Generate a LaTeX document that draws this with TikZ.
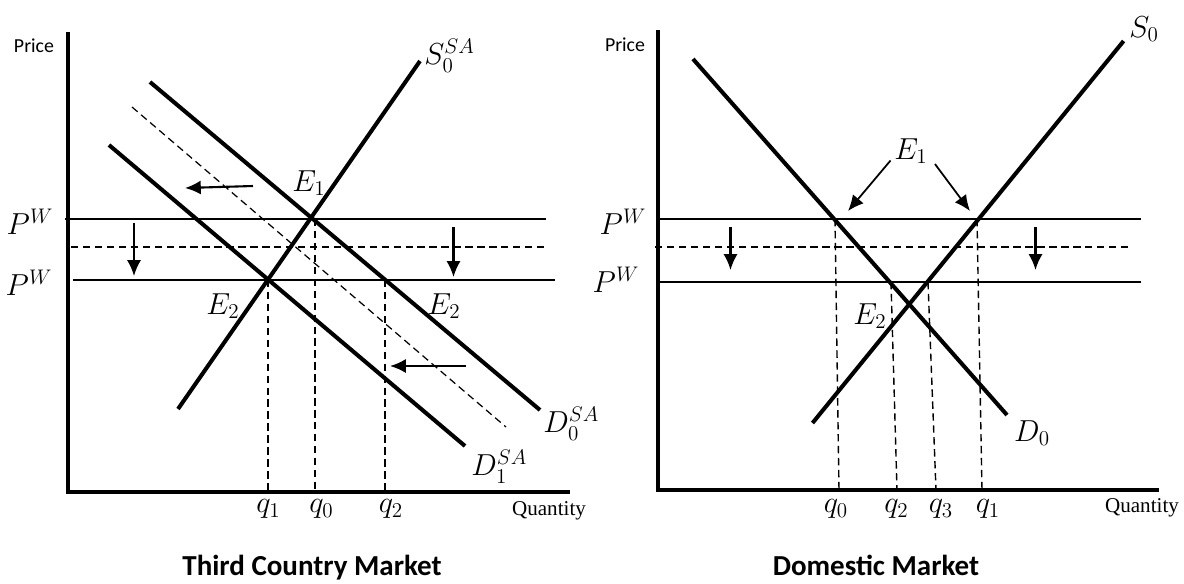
\documentclass[tikz,border=0pt]{standalone}
\usepackage{amsmath}
\usepackage{fontspec}
\usepackage{tikz}
\usetikzlibrary{
    arrows.meta,
    calc
}
\newfontfamily\labelfont{Carlito}
\newfontfamily\axisfont{Liberation Serif}

\begin{document}
\begin{tikzpicture}[
    >=Latex,
    x=0.02cm,
    y=-0.02cm,
    axis/.style={line width=2.6pt, line join=miter},
    curve/.style={line width=2.3pt},
    price/.style={line width=1.1pt},
    guide/.style={line width=0.8pt, dash pattern=on 4.2pt off 2.6pt},
    shiftarrow/.style={->, line width=1.2pt, >={Latex[length=9pt,width=8pt]}},
    lbl/.style={font=\fontsize{16.5}{19}\selectfont, inner sep=0pt},
    axlbl/.style={font=\labelfont\fontsize{11.3}{13}\selectfont, inner sep=0pt},
    qtylbl/.style={font=\axisfont\fontsize{12}{14}\selectfont, inner sep=0pt},
    mkttitle/.style={font=\labelfont\bfseries\fontsize{16.5}{19}\selectfont, inner sep=0pt, anchor=base}
]

\useasboundingbox (0,0) rectangle (1184,583);

% ---------- Third country market ----------

% Axes
\coordinate (o1) at (68,492);
\draw[axis]
    (68,32) -- (o1) -- (569.5,492);
\node[axlbl] (price1) at (34,46) {Price};
\node[qtylbl] (qty1) at (549,511) {Quantity};

% Intersections
\coordinate (e1) at (312,219);
\coordinate (e2a) at (268,280);
\coordinate (e2b) at (385,280);

% World prices
\draw[price]
    (65,219) -- (546,219);
\draw[guide]
    (71,247) -- (545,247);
\draw[price]
    (73,280) -- (555,280);
\node[lbl] (pw1a) at (30,222) {$P^W$};
\node[lbl] (pw1b) at (29,283) {$P^W$};

% Supply and demand
\draw[curve]
    (178,409) -- (420,61);
\draw[curve]
    (150,82) -- (540,410);
\draw[curve]
    (109,145) -- (465,446);
\draw[guide, line width=0.7pt]
    (132,107) -- (506,427);
\node[lbl, anchor=west] (s0) at (424,56) {$S_0^{SA}$};
\node[lbl, anchor=west] (d0) at (543,424) {$D_0^{SA}$};
\node[lbl, anchor=west] (d1) at (471,467) {$D_1^{SA}$};
\node[lbl] (e1lbl) at (309,183) {$E_1$};
\node[lbl] (e2albl) at (223,306) {$E_2$};
\node[lbl] (e2blbl) at (444,306) {$E_2$};

% Shifts
\coordinate (a1s) at (253,186);
\coordinate (a1e) at (185,188);
\coordinate (a2s) at (466,366);
\coordinate (a2e) at (390,366);
\draw[shiftarrow] (a1s) -- (a1e);
\draw[shiftarrow] (a2s) -- (a2e);
\coordinate (d1s) at (134,223);
\coordinate (d1e) at (134,276);
\coordinate (d2s) at (453.5,227);
\coordinate (d2e) at (453.5,277);
\draw[shiftarrow] (d1s) -- (d1e);
\draw[shiftarrow] (d2s) -- (d2e);

% Quantities
\draw[guide]
    (e2a) -- (e2a |- o1);
\draw[guide]
    (315,219) -- (315,492);
\draw[guide]
    (e2b) -- (e2b |- o1);
\node[lbl] (q1a) at (268.5,509) {$q_1$};
\node[lbl] (q0a) at (321.5,509) {$q_0$};
\node[lbl] (q2a) at (391,509) {$q_2$};

\node[mkttitle] (t1) at (312,575) {Third Country Market};

% ---------- Domestic market ----------

% Axes
\coordinate (o2) at (658,490);
\draw[axis]
    (658,30) -- (o2) -- (1159,490);
\node[axlbl] (price2) at (625,44.5) {Price};
\node[qtylbl] (qty2) at (1142,508) {Quantity};

% World prices
\draw[price]
    (660,219) -- (1141,219);
\draw[guide]
    (655,247) -- (1129,247);
\draw[price]
    (660,282) -- (1141,282);
\node[lbl] (pw2a) at (623,222) {$P^W$};
\node[lbl] (pw2b) at (616,280) {$P^W$};

% Supply and demand
\draw[curve]
    (693,59) -- (1007,415);
\draw[curve]
    (812.5,423) -- (1123.6,41);
\node[lbl] (s0d) at (1144,29) {$S_0$};
\node[lbl] (d0d) at (1032,433) {$D_0$};
\node[lbl] (e2lbl) at (870,316) {$E_2$};

% Equilibria at world price
\coordinate (ql) at (835,219);
\coordinate (qr) at (977,219);
\node[lbl] (e1d) at (911,151) {$E_1$};
\draw[shiftarrow, line width=1pt]
    ([xshift=-2pt,yshift=2pt]e1d.south west) -- ($(ql)+(13,-8)$);
\draw[shiftarrow, line width=1pt]
    ([xshift=4pt,yshift=0pt]e1d.south east) -- ($(qr)+(-7,-8)$);

% Shifts
\coordinate (d3s) at (730.5,227);
\coordinate (d3e) at (730.5,270);
\coordinate (d4s) at (1035.5,227);
\coordinate (d4e) at (1035.5,270);
\draw[shiftarrow] (d3s) -- (d3e);
\draw[shiftarrow] (d4s) -- (d4e);

% Quantities
\coordinate (q2t) at (891,282);
\coordinate (q3t) at (928,282);
\draw[guide]
    (ql) -- (839,490);
\draw[guide]
    (q2t) -- (897,490);
\draw[guide]
    (q3t) -- (936,490);
\draw[guide]
    (qr) -- (982,490);
\node[lbl] (q0b) at (836,509) {$q_0$};
\node[lbl] (q2b) at (896.5,509) {$q_2$};
\node[lbl] (q3b) at (941,509) {$q_3$};
\node[lbl] (q1b) at (988,509) {$q_1$};

\node[mkttitle] (t2) at (876,575) {Domestic Market};

\end{tikzpicture}
\end{document}
